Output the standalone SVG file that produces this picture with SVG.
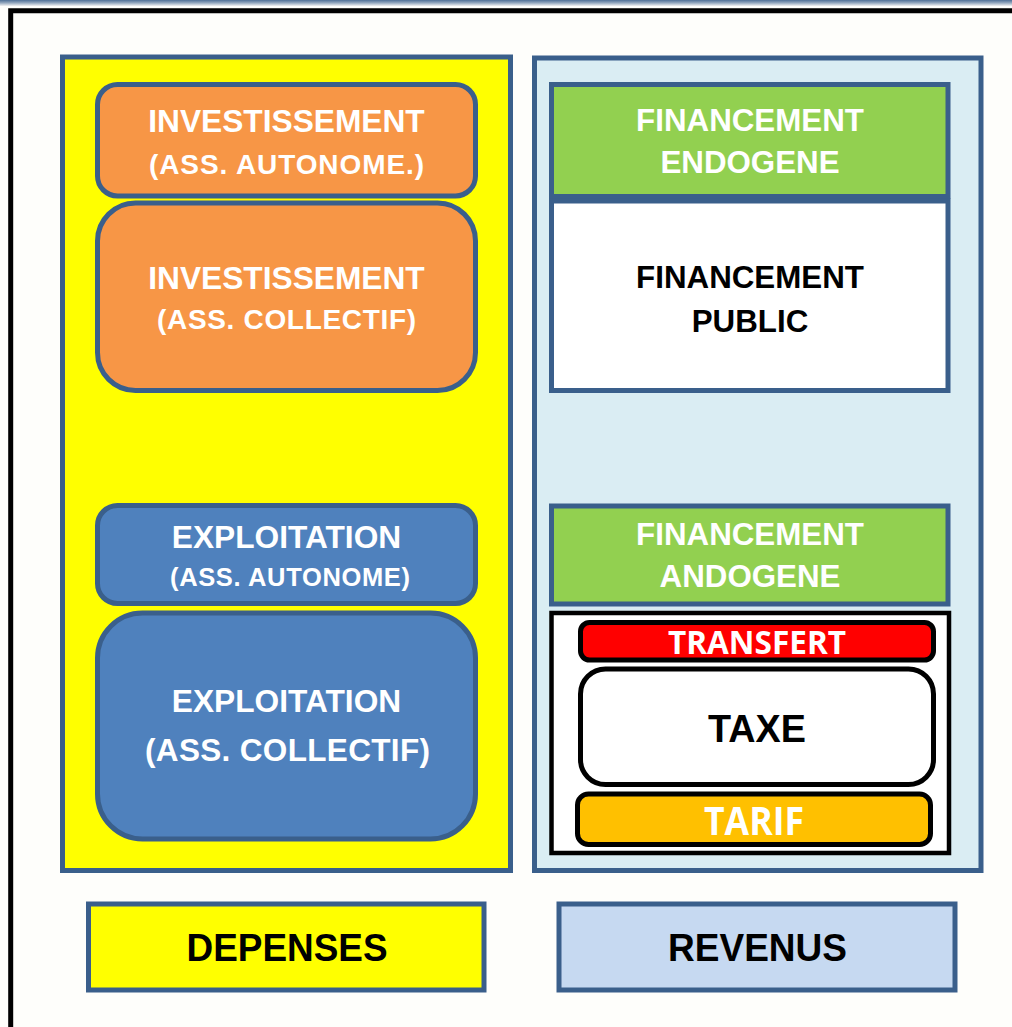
<svg xmlns="http://www.w3.org/2000/svg" width="1012" height="1027" viewBox="0 0 1012 1027">
<defs>
<linearGradient id="topbar" x1="0" y1="0" x2="0" y2="1">
<stop offset="0" stop-color="#4e6f96"/>
<stop offset="0.45" stop-color="#8ea3bb"/>
<stop offset="1" stop-color="#f2f2f2"/>
</linearGradient>
<style>
.panel{stroke:#3a5f8b;stroke-width:5}
.box{stroke:#3a5f8b;stroke-width:5}
.blk{stroke:#000;stroke-width:5}
.t{font-family:"Liberation Sans",Arial,sans-serif;font-weight:bold;text-anchor:middle}
.c{font-family:"Open Sans","Liberation Sans",sans-serif;font-weight:bold;text-anchor:middle}
.w{fill:#fff}
.k{fill:#000}
</style>
</defs>
<rect x="0" y="0" width="1012" height="1027" fill="#fefefb"/>
<rect x="0" y="0" width="1012" height="6" fill="url(#topbar)"/>
<path d="M10.7,1027 V10.7 H1012" fill="none" stroke="#000" stroke-width="5"/>

<g id="panel-depenses"><rect class="panel" x="62.5" y="57" width="448" height="813.5" fill="#ffff00"/></g>
<g id="panel-revenus"><rect class="panel" x="534.5" y="58" width="446.5" height="812.5" fill="#daedf3"/></g>

<g id="inv-autonome">
<rect class="box" x="97.5" y="84.5" width="378" height="111.5" rx="20" fill="#f79646"/>
<text class="t w" x="286.5" y="131.5" font-size="31.7">INVESTISSEMENT</text>
<text class="t w" x="286.5" y="173.5" font-size="28" textLength="275" lengthAdjust="spacing">(ASS. AUTONOME.)</text>
</g>
<g id="inv-collectif">
<rect class="box" x="97.5" y="203" width="378" height="187.5" rx="38" fill="#f79646"/>
<text class="t w" x="286.5" y="288.5" font-size="31.7">INVESTISSEMENT</text>
<text class="t w" x="286.5" y="329" font-size="28" textLength="259" lengthAdjust="spacing">(ASS. COLLECTIF)</text>
</g>
<g id="exp-autonome">
<rect class="box" x="97.5" y="505.5" width="378" height="98" rx="20" fill="#4f81bd"/>
<text class="t w" x="286.5" y="547.5" font-size="31.7">EXPLOITATION</text>
<text class="t w" x="290" y="586" font-size="25.5" textLength="240" lengthAdjust="spacing">(ASS. AUTONOME)</text>
</g>
<g id="exp-collectif">
<rect class="box" x="97.5" y="613" width="378" height="226" rx="45" fill="#4f81bd"/>
<text class="t w" x="286.5" y="711.5" font-size="31.7">EXPLOITATION</text>
<text class="t w" x="287.5" y="760.5" font-size="31.5" textLength="285" lengthAdjust="spacing">(ASS. COLLECTIF)</text>
</g>

<g id="fin-endogene">
<rect class="box" x="551.5" y="84.5" width="396.5" height="112" fill="#92d050"/>
<text class="t w" x="750" y="131" font-size="31.3">FINANCEMENT</text>
<text class="t w" x="750" y="173" font-size="31.3">ENDOGENE</text>
</g>
<g id="fin-public">
<rect class="box" x="551.5" y="201" width="396.5" height="189.5" fill="#ffffff"/>
<text class="t k" x="750" y="288" font-size="31.3">FINANCEMENT</text>
<text class="t k" x="750" y="332" font-size="31.3">PUBLIC</text>
</g>
<g id="fin-andogene">
<rect class="box" x="551.5" y="506" width="396.5" height="98" fill="#92d050"/>
<text class="t w" x="750" y="545" font-size="31.3">FINANCEMENT</text>
<text class="t w" x="750" y="587" font-size="31.3">ANDOGENE</text>
</g>
<g id="fin-detail">
<rect x="551.5" y="613" width="397.5" height="240" fill="#ffffff" stroke="#000" stroke-width="4.5"/>
</g>
<g id="transfert">
<rect class="blk" x="580.5" y="622.5" width="353" height="37.5" rx="9" fill="#ff0000"/>
<text class="c w" x="757" y="654" font-size="33" textLength="178" lengthAdjust="spacingAndGlyphs">TRANSFERT</text>
</g>
<g id="taxe">
<rect class="blk" x="580.5" y="669" width="353" height="115.5" rx="25" fill="#ffffff"/>
<text class="t k" x="757" y="741.5" font-size="38" textLength="98" lengthAdjust="spacingAndGlyphs">TAXE</text>
</g>
<g id="tarif">
<rect class="blk" x="577.5" y="794" width="353" height="50.5" rx="11" fill="#ffc000"/>
<text class="c w" x="754" y="835" font-size="39" textLength="100" lengthAdjust="spacingAndGlyphs">TARIF</text>
</g>

<g id="depenses">
<rect class="box" x="88.5" y="904" width="395.5" height="86" fill="#ffff00"/>
<text class="t k" x="287" y="961" font-size="39" textLength="201" lengthAdjust="spacingAndGlyphs">DEPENSES</text>
</g>
<g id="revenus">
<rect class="box" x="559" y="904" width="396" height="86" fill="#c6d9f1"/>
<text class="t k" x="757.5" y="961" font-size="39" textLength="179" lengthAdjust="spacingAndGlyphs">REVENUS</text>
</g>
<g id="connectors"></g>
</svg>
